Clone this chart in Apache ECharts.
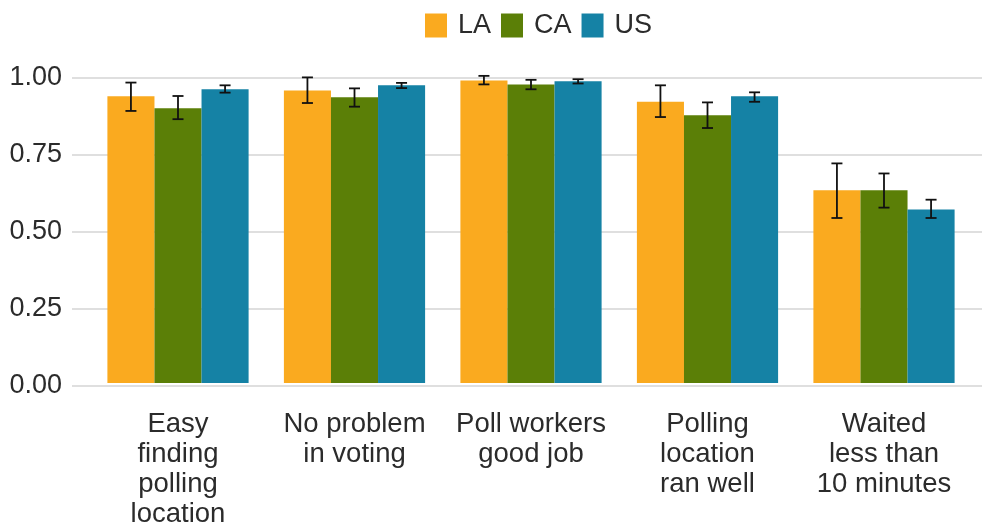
<!DOCTYPE html>
<html>
<head>
<meta charset="utf-8">
<script src="https://cdn.jsdelivr.net/npm/echarts@6/dist/echarts.min.js"></script>
<style>
html,body{margin:0;padding:0;background:#fff;}
#chart{width:982px;height:529px;}
</style>
</head>
<body>
<div id="chart"></div>
<script>
var categories = ["Easy\nfinding\npolling\nlocation", "No problem\nin voting", "Poll workers\ngood job", "Polling\nlocation\nran well", "Waited\nless than\n10 minutes"];
var seriesNames = ["LA", "CA", "US"];
var laValues = [0.940, 0.959, 0.992, 0.922, 0.632];
var caValues = [0.901, 0.937, 0.979, 0.878, 0.632];
var usValues = [0.963, 0.976, 0.989, 0.940, 0.569];
var laLow  = [0.892, 0.918, 0.979, 0.872, 0.541];
var laHigh = [0.985, 1.002, 1.007, 0.976, 0.720];
var caLow  = [0.865, 0.906, 0.963, 0.836, 0.575];
var caHigh = [0.941, 0.966, 0.994, 0.920, 0.687];
var usLow  = [0.952, 0.967, 0.982, 0.922, 0.541];
var usHigh = [0.976, 0.984, 0.996, 0.953, 0.601];
var yTicks = [0, 0.25, 0.5, 0.75, 1.0];

var colors = ["#FAAA1F", "#5B7F07", "#1582A5"];
var FONT = "Liberation Sans, Arial, Helvetica, sans-serif";
var TXT = "#2b2b2b";

var values = [laValues, caValues, usValues];
var lows = [laLow, caLow, usLow];
var highs = [laHigh, caHigh, usHigh];

var chart = echarts.init(document.getElementById('chart'), null, {renderer: 'canvas'});

function errRender(seriesIdx) {
  return function (params, api) {
    var cat = api.value(0);
    var lo = api.coord([cat, api.value(1)]);
    var hi = api.coord([cat, api.value(2)]);
    var band = api.size([1, 0])[0];
    var bw = band * 0.8 / 3;
    var x = lo[0] + (seriesIdx - 1) * bw;
    var cap = 5.5;
    var st = {stroke: '#111', lineWidth: 1.8, fill: null};
    return {
      type: 'group',
      children: [
        {type: 'line', shape: {x1: x, y1: lo[1], x2: x, y2: hi[1]}, style: st},
        {type: 'line', shape: {x1: x - cap, y1: lo[1], x2: x + cap, y2: lo[1]}, style: st},
        {type: 'line', shape: {x1: x - cap, y1: hi[1], x2: x + cap, y2: hi[1]}, style: st}
      ]
    };
  };
}

var series = [];
seriesNames.forEach(function (name, i) {
  series.push({
    name: name,
    type: 'bar',
    xAxisIndex: 1,
    yAxisIndex: 1,
    data: values[i],
    barGap: '0%',
    barCategoryGap: '20%',
    itemStyle: {color: colors[i]},
    emphasis: {disabled: true},
    z: 2
  });
});
seriesNames.forEach(function (name, i) {
  series.push({
    type: 'custom',
    xAxisIndex: 1,
    yAxisIndex: 1,
    renderItem: errRender(i),
    clip: false,
    data: categories.map(function (c, k) { return [k, lows[i][k], highs[i][k]]; }),
    encode: {x: 0, y: [1, 2]},
    z: 5,
    silent: true
  });
});

var option = {
  backgroundColor: '#fff',
  animation: false,
  legend: {
    data: seriesNames,
    left: 420,
    top: 7,
    icon: 'rect',
    itemWidth: 22,
    itemHeight: 24,
    itemGap: 10,
    textStyle: {fontFamily: FONT, fontSize: 27, color: TXT, padding: [0, 0, 0, 6]}
  },
  grid: [
    {left: 72, right: 0, top: 78, bottom: 143},
    {left: 89.75, right: 9.75, top: 78, bottom: 143}
  ],
  xAxis: [
    {type: 'category', gridIndex: 0, data: categories, show: false},
    {
      type: 'category', gridIndex: 1, data: categories,
      axisLine: {show: false}, axisTick: {show: false},
      axisLabel: {fontFamily: FONT, fontSize: 27.5, color: TXT, lineHeight: 30, margin: 26, interval: 0, align: 'center'}
    }
  ],
  yAxis: [
    {
      type: 'value', gridIndex: 0, min: 0, max: 1, interval: 0.25,
      axisLine: {show: false}, axisTick: {show: false},
      splitLine: {lineStyle: {color: '#d5d5d5', width: 1.6}},
      axisLabel: {fontFamily: FONT, fontSize: 27, color: TXT, margin: 10,
        formatter: function (v) { return v.toFixed(2); }}
    },
    {type: 'value', gridIndex: 1, min: 0, max: 1, show: false}
  ],
  series: series
};
chart.setOption(option);
</script>
</body>
</html>
